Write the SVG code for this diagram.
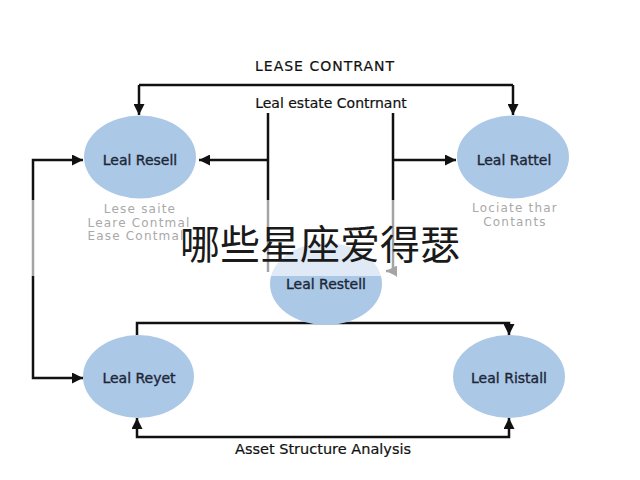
<svg xmlns="http://www.w3.org/2000/svg" width="640" height="480" viewBox="0 0 640 480">
  <style>
    .node { fill: #abc8e6; }
    .label { font-family: "DejaVu Sans", "Liberation Sans", sans-serif; font-size: 14px; fill: #1c2636; stroke: #1c2636; stroke-width: 0.35; text-anchor: middle; dominant-baseline: central; }
    .title { font-family: "DejaVu Sans", "Liberation Sans", sans-serif; font-size: 14px; fill: #111; stroke: #111; stroke-width: 0.2; text-anchor: middle; dominant-baseline: central; }
    .sub { font-family: "DejaVu Sans", "Liberation Sans", sans-serif; font-size: 12px; letter-spacing: 1.2px; fill: #a9a9a9; text-anchor: middle; dominant-baseline: central; }
    .wire { fill: none; stroke: #111; stroke-width: 2.5; }
    .cjk { font-family: "Noto Sans CJK SC", sans-serif; font-size: 40px; fill: #1a1a1a; text-anchor: middle; }
  </style>
  <defs>
    <marker id="arrow" viewBox="0 0 10 10" refX="10" refY="5" markerWidth="11" markerHeight="11" markerUnits="userSpaceOnUse" orient="auto">
      <path d="M0,0 L10,5 L0,10 Z" fill="#111"/>
    </marker>
  </defs>
  <rect x="0" y="0" width="640" height="480" fill="#ffffff"/>

  <text class="title" x="325" y="66" style="letter-spacing:1px">LEASE CONTRANT</text>
  <text class="title" x="331" y="103">Leal estate Contrnant</text>

  <g id="connectors">
    <path class="wire" d="M139,85 H513"/>
    <path class="wire" d="M513,85 V115" marker-end="url(#arrow)"/>
    <path class="wire" d="M139,85 V115" marker-end="url(#arrow)"/>
    <path class="wire" d="M268,113 V272"/>
    <path class="wire" d="M268,160 H199" marker-end="url(#arrow)"/>
    <path class="wire" d="M393,113 V271 H386" marker-end="url(#arrow)"/>
    <path class="wire" d="M393,160 H456" marker-end="url(#arrow)"/>
    <path class="wire" d="M33,270 V160 H83" marker-end="url(#arrow)"/>
    <path class="wire" d="M33,270 V378 H83" marker-end="url(#arrow)"/>
    <path class="wire" d="M137,335 V323 H509 V335" marker-end="url(#arrow)"/>
    <path class="wire" d="M322,437 H137 V418" marker-end="url(#arrow)"/>
    <path class="wire" d="M322,437 H509 V418" marker-end="url(#arrow)"/>
  </g>

  <g id="node-leal-resell">
    <ellipse class="node" cx="140" cy="157" rx="56" ry="41.5"/>
    <text class="label" x="140" y="160">Leal Resell</text>
  </g>
  <g id="node-leal-rattel">
    <ellipse class="node" cx="513" cy="157" rx="56" ry="41.5"/>
    <text class="label" x="514" y="160">Leal Rattel</text>
  </g>
  <g id="node-leal-restell">
    <ellipse class="node" cx="326" cy="284" rx="56" ry="41"/>
    <text class="label" x="326" y="284">Leal Restell</text>
  </g>
  <g id="node-leal-reyet">
    <ellipse class="node" cx="138.5" cy="376.5" rx="55.5" ry="41.5"/>
    <text class="label" x="139" y="378">Leal Reyet</text>
  </g>
  <g id="node-leal-ristall">
    <ellipse class="node" cx="509" cy="376.5" rx="56" ry="41.5"/>
    <text class="label" x="509" y="378">Leal Ristall</text>
  </g>

  <rect x="0" y="200" width="640" height="76" fill="#ffffff" opacity="0.62"/>

  <text class="sub" x="140" y="209">Lese saite</text>
  <text class="sub" x="139" y="222.5">Leare Contmal</text>
  <text class="sub" x="136" y="236">Ease Contmal</text>
  <text class="sub" x="515" y="208">Lociate thar</text>
  <text class="sub" x="515" y="222">Contants</text>

  <text class="title" x="323" y="449" style="font-size:14.5px">Asset Structure Analysis</text>

  <text class="cjk" x="320" y="259">哪些星座爱得瑟</text>
</svg>
